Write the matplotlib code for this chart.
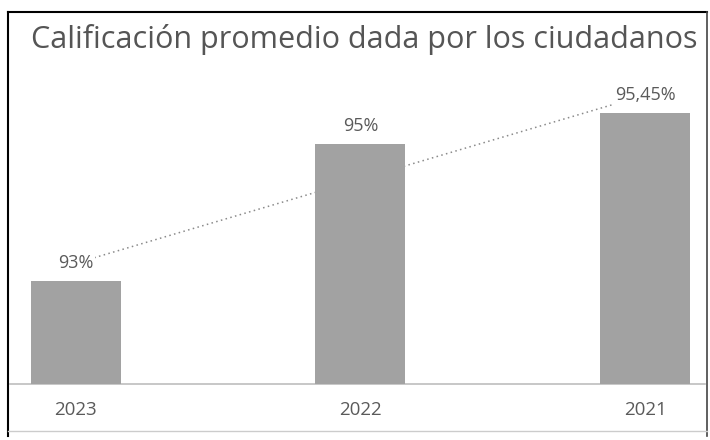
import matplotlib
matplotlib.use("Agg")
import matplotlib.pyplot as plt
from matplotlib.lines import Line2D
import numpy as np

categories = ["2023", "2022", "2021"]
values = [93.0, 95.0, 95.45]
value_labels = ["93%", "95%", "95,45%"]
title = "Calificación promedio dada por los ciudadanos"

plt.rcParams['font.family'] = ['Open Sans', 'DejaVu Sans']

W, H = 710, 440
fig = plt.figure(figsize=(W / 100, H / 100), dpi=100)
fig.patch.set_facecolor("white")

ax = fig.add_axes([10 / W, (H - 384) / H, (705 - 10) / W, (384 - 75) / H])
x = np.arange(len(categories))
bars = ax.bar(x, values, width=0.316, color="#a2a2a2", zorder=3)

ax.set_ylim(91.5, 96.0)
ax.set_xlim(-0.23, 2.21)

# linear trendline from the data
coef = np.polyfit(x, values, 1)
xt = np.array([0, 2])
ax.plot(xt, np.polyval(coef, xt), linestyle=(0, (1, 2.2)), color="#8a8a8a",
        linewidth=1.1, zorder=2)

for xi, v, lab in zip(x, values, value_labels):
    ax.annotate(lab, (xi, v), xytext=(0, 13), textcoords="offset points",
                ha="center", va="center", fontsize=13, color="#5a5a5a",
                bbox=dict(boxstyle="square,pad=0.1", fc="white", ec="none"),
                zorder=4)

for s in ["top", "right", "left"]:
    ax.spines[s].set_visible(False)
ax.spines["bottom"].set_color("#bdbdbd")
ax.spines["bottom"].set_linewidth(1.2)
ax.set_yticks([])
ax.set_xticks(x)
ax.set_xticklabels(categories, fontsize=13.5, color="#5a5a5a")
ax.tick_params(axis="x", length=0, pad=12)

fig.text(31 / W, 1 - 48 / H, title, fontsize=22, color="#555555",
         ha="left", va="baseline")

# frame around the chart
fig.add_artist(Line2D([8 / W, 8 / W], [1 - 12 / H, 1 - 436 / H], color="black", lw=1.5))
fig.add_artist(Line2D([8 / W, 707 / W], [1 - 12 / H, 1 - 12 / H], color="black", lw=1.5))
fig.add_artist(Line2D([707 / W, 707 / W], [1 - 12 / H, 1 - 436 / H], color="#444444", lw=1.2))
fig.add_artist(Line2D([8 / W, 707 / W], [1 - 431 / H, 1 - 431 / H], color="#cccccc", lw=1.0))

fig.savefig("out.png", dpi=100)
